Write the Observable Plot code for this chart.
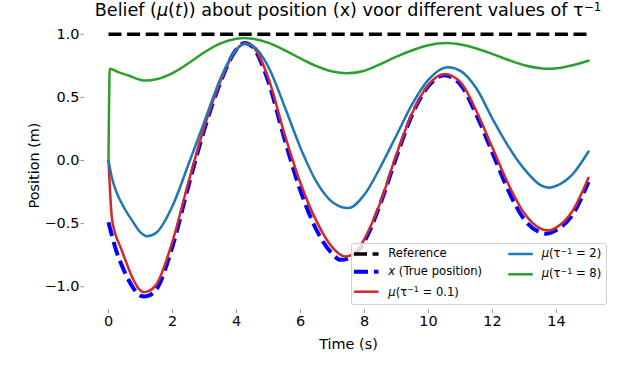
<!DOCTYPE html>
<html>
<head>
<meta charset="utf-8">
<script src="https://cdn.jsdelivr.net/npm/d3@7"></script>
<script src="https://cdn.jsdelivr.net/npm/@observablehq/plot@0.6"></script>
<style>
  html, body { margin: 0; padding: 0; background: white; }
  #wrap { position: relative; width: 626px; height: 380px; font-family: "DejaVu Sans", sans-serif; color: black; }
  #title { position: absolute; left: 0; width: 696px; top: 2px; text-align: center; font-size: 17.6px; line-height: 17.4px; white-space: nowrap; }
  .sup { position: relative; font-size: 0.68em; }
  #legend { position: absolute; left: 350.5px; top: 242.5px; width: 254px; height: 60px; background: rgba(255,255,255,0.8); border: 1px solid #d0d0d0; border-radius: 3px; }
  .lt { position: absolute; font-size: 11.6px; line-height: 11.6px; white-space: nowrap; }
  #legsvg { position: absolute; left: 0; top: 0; }
</style>
</head>
<body>
<div id="wrap">
  <div id="chart"></div>
  <div id="title">Belief (<i>μ</i>(<i>t</i>)) about position (x) voor different values of τ<span class="sup" style="top:-0.45em">−1</span></div>
  <div id="legend"></div>
  <svg id="legsvg" width="626" height="380"></svg>
</div>
<script>
// ---- data ----
const refT = [0, 15];
const refV = [1, 1];

const tTrue = [0, 0.25, 0.5, 0.75, 1, 1.1, 1.25, 1.5, 2, 2.5, 3, 3.5, 4, 4.25, 4.5, 5, 5.5, 6, 6.5, 7, 7.25, 7.5, 8, 8.5, 9, 9.5, 10, 10.5, 11, 11.5, 12, 12.5, 13, 13.5, 13.66, 14, 14.5, 15];
const xTrue = [-0.49, -0.72, -0.88, -1.0, -1.07, -1.077, -1.07, -1.02, -0.68, -0.20, 0.25, 0.62, 0.88, 0.93, 0.90, 0.62, 0.17, -0.24, -0.55, -0.74, -0.787, -0.775, -0.64, -0.34, 0.03, 0.37, 0.59, 0.675, 0.60, 0.36, 0.06, -0.24, -0.47, -0.57, -0.58, -0.55, -0.43, -0.17];

const tMu01 = [0, 0.1, 0.2, 0.35, 0.5, 0.75, 1, 1.1, 1.25, 1.5, 2, 2.5, 3, 3.5, 4, 4.25, 4.5, 5, 5.5, 6, 6.5, 7, 7.4, 7.75, 8, 8.5, 9, 9.5, 10, 10.5, 11, 11.5, 12, 12.5, 13, 13.5, 13.75, 14, 14.5, 15];
const vMu01 = [0, -0.44, -0.57, -0.67, -0.77, -0.93, -1.03, -1.043, -1.035, -0.98, -0.64, -0.17, 0.27, 0.63, 0.88, 0.929, 0.905, 0.65, 0.21, -0.18, -0.48, -0.69, -0.76, -0.72, -0.62, -0.33, 0.05, 0.38, 0.60, 0.686, 0.62, 0.39, 0.10, -0.19, -0.42, -0.54, -0.555, -0.53, -0.40, -0.137];

const tMu2 = [0, 0.1, 0.25, 0.5, 0.75, 1, 1.2, 1.5, 2, 2.5, 3, 3.5, 4, 4.3, 4.5, 5, 5.5, 6, 6.5, 7, 7.5, 8, 8.5, 9, 9.5, 10, 10.6, 11, 11.5, 12, 12.5, 13, 13.5, 13.75, 14, 14.5, 15];
const vMu2 = [0, -0.13, -0.25, -0.38, -0.48, -0.57, -0.60, -0.57, -0.36, -0.03, 0.31, 0.65, 0.88, 0.925, 0.91, 0.74, 0.43, 0.10, -0.17, -0.33, -0.377, -0.27, -0.05, 0.20, 0.45, 0.64, 0.739, 0.71, 0.57, 0.33, 0.11, -0.07, -0.195, -0.216, -0.20, -0.11, 0.071];

const tMu8 = [0, 0.04, 0.3, 0.6, 1.15, 1.5, 2, 2.5, 3, 3.5, 4, 4.25, 4.5, 5, 5.5, 6, 6.5, 7, 7.45, 8, 8.5, 9, 9.5, 10, 10.55, 11, 11.5, 12, 12.5, 13, 13.5, 13.75, 14, 14.5, 15];
const vMu8 = [0, 0.726, 0.70, 0.675, 0.633, 0.643, 0.692, 0.77, 0.857, 0.927, 0.965, 0.971, 0.965, 0.932, 0.875, 0.808, 0.748, 0.705, 0.691, 0.711, 0.764, 0.823, 0.873, 0.912, 0.93, 0.918, 0.887, 0.843, 0.796, 0.754, 0.73, 0.726, 0.73, 0.755, 0.79];

const xTicks = [0, 2, 4, 6, 8, 10, 12, 14];
const yTicks = [-1, -0.5, 0, 0.5, 1];
const xLabel = "Time (s)";
const yLabel = "Position (m)";

// ---- styles ----
const C = { ref: "#000000", truth: "#0000ff", mu01: "#d62728", mu2: "#1f77b4", mu8: "#2ca02c" };
const W = { ref: 3.5, truth: 4, mu: 2.5 };
const DASH = { ref: "13 5.6", truth: "14 6" };
const CURVE = "monotone-x";

const chart = Plot.plot({
  width: 626,
  height: 380,
  marginTop: 20.6,
  marginBottom: 70.5,
  marginLeft: 84,
  marginRight: 14,
  style: { fontFamily: "DejaVu Sans", background: "transparent", overflow: "visible" },
  x: { domain: [-0.75, 15.75] },
  y: { domain: [-1.184, 1.104] },
  marks: [
    Plot.axisX({ ticks: xTicks, tickSize: 3.5, tickPadding: 2, fontSize: 14.4, stroke: "#777", strokeWidth: 0.8, fill: "black", label: null, tickFormat: d => String(d) }),
    Plot.axisY({ ticks: yTicks, tickSize: 3.5, tickPadding: 1.5, fontSize: 14.4, stroke: "#777", strokeWidth: 0.8, fill: "black", label: null, tickFormat: d => d.toFixed(1).replace("-", "\u2212") }),
    Plot.text([xLabel], { frameAnchor: "bottom", dy: 34, fontSize: 14.4, fill: "black", text: d => d, textAnchor: "middle", lineAnchor: "middle" }),
    Plot.text([yLabel], { frameAnchor: "left", dx: -49.8, rotate: -90, fontSize: 14.4, fill: "black", text: d => d, textAnchor: "middle", lineAnchor: "middle" }),
    Plot.line(refT, { x: refT, y: refV, stroke: C.ref, strokeWidth: W.ref, strokeDasharray: DASH.ref, strokeLinecap: "butt" }),
    Plot.line(tTrue, { x: tTrue, y: xTrue, stroke: C.truth, strokeWidth: W.truth, strokeDasharray: DASH.truth, strokeLinecap: "butt", curve: CURVE }),
    Plot.line(tMu01, { x: tMu01, y: vMu01, stroke: C.mu01, strokeWidth: W.mu, curve: CURVE }),
    Plot.line(tMu2, { x: tMu2, y: vMu2, stroke: C.mu2, strokeWidth: W.mu, curve: CURVE }),
    Plot.line(tMu8, { x: tMu8, y: vMu8, stroke: C.mu8, strokeWidth: W.mu, curve: CURVE })
  ]
});
document.getElementById("chart").appendChild(chart);

// ---- legend (HTML overlay) ----
const legendEntries = [
  { html: "Reference", color: C.ref, w: W.ref, dash: DASH.ref, x: 354, y: 254, tx: 388.3, base: 258.3 },
  { html: "<i>x</i> (True position)", color: C.truth, w: W.truth, dash: DASH.truth, x: 354, y: 271.7, tx: 388.3, base: 276 },
  { html: "<i>μ</i>(τ<span class='sup' style='top:-0.45em'>−1</span> = 0.1)", color: C.mu01, w: W.mu, dash: null, x: 354, y: 291.7, tx: 388.3, base: 296.7 },
  { html: "<i>μ</i>(τ<span class='sup' style='top:-0.45em'>−1</span> = 2)", color: C.mu2, w: W.mu, dash: null, x: 508.3, y: 254, tx: 541.7, base: 258.3 },
  { html: "<i>μ</i>(τ<span class='sup' style='top:-0.45em'>−1</span> = 8)", color: C.mu8, w: W.mu, dash: null, x: 508.3, y: 274.3, tx: 541.7, base: 278.3 }
];
const wrap = document.getElementById("wrap");
const legsvg = d3.select("#legsvg");
for (const e of legendEntries) {
  legsvg.append("line")
    .attr("x1", e.x).attr("x2", e.x + 24.5)
    .attr("y1", e.y).attr("y2", e.y)
    .attr("stroke", e.color).attr("stroke-width", e.w)
    .attr("stroke-dasharray", e.dash)
    .attr("stroke-linecap", "butt");
  const div = document.createElement("div");
  div.className = "lt";
  div.style.left = e.tx + "px";
  div.style.top = (e.base - 0.846 * 11.6) + "px";
  div.innerHTML = e.html;
  wrap.appendChild(div);
}
</script>
</body>
</html>
